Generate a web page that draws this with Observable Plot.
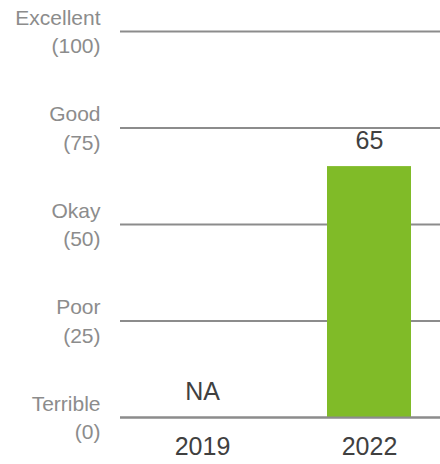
<!DOCTYPE html>
<html>
<head>
<meta charset="utf-8">
<script src="https://cdn.jsdelivr.net/npm/d3@7"></script>
<script src="https://cdn.jsdelivr.net/npm/@observablehq/plot@0.6"></script>
<style>
  html, body { margin: 0; padding: 0; background: #fff; }
  #chart svg { display: block; }
</style>
</head>
<body>
<div id="chart"></div>
<script>
const years = ["2019", "2022"];
const scores = [null, 65];
const tickValues = [0, 25, 50, 75, 100];
const tickNames = ["Terrible", "Poor", "Okay", "Good", "Excellent"];

const data = years.map((year, i) => ({ year, value: scores[i] }));
const tickLabel = new Map(tickValues.map((v, i) => [v, `${tickNames[i]}\n(${v})`]));

const chart = Plot.plot({
  width: 440,
  height: 464,
  marginLeft: 120,
  marginRight: 0,
  marginTop: 31,
  marginBottom: 47,
  style: { fontFamily: "'Liberation Sans', Arial, sans-serif", background: "#fff" },
  x: { domain: years, paddingInner: 0.5, paddingOuter: 0.208, align: 0.58, label: null },
  y: { domain: [0, 100], label: null },
  marks: [
    Plot.ruleY(tickValues, { stroke: "#8c8c8c", strokeWidth: 2 }),
    Plot.barY(data.filter(d => d.value != null), { x: "year", y: "value", fill: "#80bb28" }),
    Plot.ruleY([0], { stroke: "#8c8c8c", strokeWidth: 2 }),
    Plot.text(data, {
      x: "year",
      y: d => d.value ?? 0,
      text: d => d.value == null ? "NA" : String(d.value),
      lineAnchor: "middle",
      dy: -26,
      fontSize: 25,
      fill: "#404040"
    }),
    Plot.axisY({
      ticks: tickValues,
      tickFormat: v => tickLabel.get(v),
      tickSize: 0,
      tickPadding: 20,
      dy: -1.5,
      fontSize: 21,
      lineHeight: 1.34,
      color: "#8c8c8c",
      label: null
    }),
    Plot.axisX({
      tickSize: 0,
      tickPadding: 20,
      fontSize: 25,
      color: "#404040",
      label: null
    })
  ]
});
document.getElementById("chart").appendChild(chart);
</script>
</body>
</html>
